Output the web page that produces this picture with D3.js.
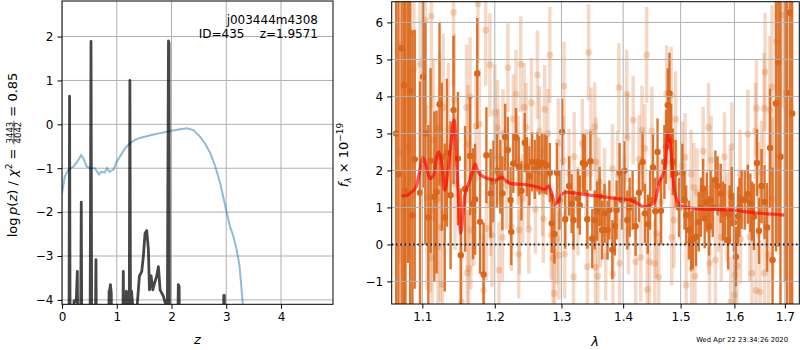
<!DOCTYPE html>
<html>
<head>
<meta charset="utf-8">
<script src="https://cdn.jsdelivr.net/npm/d3@7"></script>
<style>
  body { margin: 0; background: #fff; }
  text { font-family: "DejaVu Sans", sans-serif; }
</style>
</head>
<body>
<div id="chart-area"></div>
<script>
// ---- dados: painel esquerdo (p(z) e chi2) ----
const pzZ = [0, 0.125, 0.138, 0.15, 0.2, 0.22, 0.26, 0.28, 0.295, 0.335, 0.352, 0.365,
  0.51, 0.53, 0.545, 0.6, 0.62, 0.635, 0.84, 0.86, 0.875, 0.885, 0.9, 0.915,
  1.1, 1.12, 1.135, 1.16, 1.175, 1.19, 1.2, 1.225, 1.24, 1.255, 1.27, 1.29, 1.31,
  1.377, 1.414, 1.457, 1.487, 1.517, 1.548, 1.578, 1.597, 1.627, 1.658, 1.70, 1.731,
  1.761, 1.792, 1.853, 1.883, 1.925, 1.945, 1.955, 1.965,
  2.1, 2.125, 2.14, 2.15, 2.94, 2.955, 2.965, 2.975, 5]
const pzLog = [-6, -6, 0.64, -6, -6, -4.02, -4.04, -3.35, -6, -6, -1.77, -6,
  -6, 1.89, -6, -6, -3.08, -6, -6, -3.8, -3.75, -3.65, -3.85, -6,
  -6, -3.35, -6, -6, -3.8, -3.85, -6, -6, 1.0, -6, -3.8, -4.1, -6,
  -4.06, -3.46, -3.35, -2.99, -2.48, -2.42, -2.85, -3.77, -3.45, -3.77, -3.58, -3.45,
  -3.24, -3.77, -3.92, -4.06, -4.1, 1.9, 1.85, -6,
  -6, -3.65, -3.7, -6, -6, -3.9, -3.9, -6, -6]

const chiZ = [0, 0.05, 0.115, 0.21, 0.28, 0.35, 0.39, 0.45, 0.51, 0.6, 0.675, 0.72, 0.78,
  0.82, 0.87, 0.94, 1.0, 1.06, 1.15, 1.24, 1.33, 1.42, 1.55, 1.67, 1.79, 1.97, 2.16,
  2.28, 2.4, 2.52, 2.61, 2.71, 2.8, 2.89, 2.95, 3.01, 3.07, 3.13, 3.19, 3.24, 3.27, 3.30, 3.35]
const chiVal = [-1.57, -1.19, -1.04, -0.96, -0.85, -0.70, -0.77, -0.96, -1.0, -1.0, -1.14, -1.08, -1.1,
  -1.0, -1.08, -1.03, -0.85, -0.73, -0.55, -0.43, -0.36, -0.31, -0.27, -0.23, -0.2, -0.15, -0.11,
  -0.09, -0.13, -0.28, -0.43, -0.66, -0.96, -1.34, -1.68, -2.02, -2.33, -2.55, -2.86, -3.2, -3.61, -4.07, -4.8]

// ---- dados: painel direito (espectro) ----
const darkLam = [1.066, 1.069, 1.073, 1.076, 1.078, 1.081, 1.084, 1.087, 1.090, 1.097, 1.101, 1.104,
  1.108, 1.111, 1.116, 1.119, 1.123, 1.126, 1.130, 1.133, 1.138, 1.142, 1.148, 1.152, 1.158,
  1.165, 1.169, 1.172, 1.175, 1.179, 1.184, 1.188, 1.194, 1.198, 1.203, 1.208, 1.211, 1.215,
  1.219, 1.223, 1.224, 1.227, 1.231, 1.235, 1.239, 1.244, 1.247, 1.251, 1.255, 1.259, 1.263,
  1.266, 1.270, 1.274, 1.277, 1.282, 1.285, 1.289, 1.293, 1.297, 1.301, 1.306, 1.312, 1.316,
  1.319, 1.326, 1.329, 1.334, 1.337, 1.341, 1.346, 1.349, 1.353, 1.357, 1.361, 1.365, 1.369,
  1.374, 1.377, 1.382, 1.386, 1.389, 1.394, 1.398, 1.402, 1.407, 1.411, 1.416, 1.421, 1.427,
  1.433, 1.437, 1.442, 1.446, 1.451, 1.455, 1.459, 1.465, 1.471, 1.474, 1.477, 1.480, 1.483,
  1.486, 1.491, 1.497, 1.503, 1.507, 1.510, 1.515, 1.519, 1.522, 1.528, 1.533, 1.537, 1.541,
  1.544, 1.548, 1.552, 1.555, 1.559, 1.564, 1.568, 1.574, 1.578, 1.582, 1.588, 1.591, 1.595,
  1.599, 1.603, 1.607, 1.610, 1.614, 1.620, 1.626, 1.631, 1.634, 1.638, 1.644, 1.648, 1.653,
  1.659, 1.664, 1.670, 1.675, 1.682, 1.687, 1.691, 1.700, 1.704, 1.710, 1.715]
const darkFlux = [3.0, 1.9, 5.3, 4.3, 1.45, 7.5, 4.15, 0.79, 2.3, 1.4, 4.53, 3.0,
  0.73, 2.26, 1.29, 1.42, 3.79, 2.37, 0.73, 2.48, 1.33, 3.63, 2.32, -0.29, 1.5,
  2.39, 1.1, 1.22, 4.62, 0.61, -0.81, 2.41, 1.38, 1.7, 2.0, 1.83, 1.38, 2.9,
  2.55, 1.2, 0.34, 2.19, 2.89, 2.1, 1.45, 2.75, 2.1, 1.85, 2.23, 2.03, 2.23,
  2.14, 2.2, 2.17, 2.14, 1.94, 0.57, 0.28, 1.94, 1.2, 3.04, 0.68, 1.58, 1.1,
  0.66, 1.24, 1.06, 2.2, 2.17, 0.68, 2.25, 0.16, 0.66, 0.9, 1.3, 0.39, 0.84,
  0.39, 0.93, -0.14, 0.5, 0.93, 1.94, 1.2, 1.99, 0.66, 1.0, 1.2, 0.49, 1.4,
  2.23, 0.84, 0.55, 1.2, 2.08, 0.9, 2.5, 0.91, 2.23, 2.64, 3.76, 4.08, 2.8,
  2.23, 1.92, 1.0, 1.92, 1.2, 0.79, 0.39, 0.1, 0.14, 0.21, 0.61, 1.0, 1.51,
  0.7, 1.15, 0.5, 1.2, 1.0, 1.74, 1.58, 1.38, 0.9, 0.84, 0.12, 0.8, 1.29,
  0.6, -0.33, 0.76, 1.0, 1.22, 1.2, 1.36, 1.12, 0.9, 0.75, 2.2, 0.37, 1.58,
  1.15, 0.46, 2.61, -0.42, 3.81, 4.94, 2.37, 7.0, 4.1, 6.26, 3.54]
const darkErr = [9, 8, 7, 7, 6.5, 8, 6, 5, 3.5, 3, 3, 3,
  2.5, 2.5, 2.3, 2.2, 2.2, 2.0, 2.0, 2.0, 2.0, 2.0, 1.8, 1.8, 1.7,
  1.6, 1.5, 1.5, 1.5, 1.4, 1.4, 1.3, 1.2, 1.1, 1.0, 1.0, 1.0, 0.9,
  0.9, 0.9, 0.9, 0.8, 0.8, 0.8, 0.8, 0.8, 0.8, 0.8, 0.8, 0.8, 0.8,
  0.8, 0.8, 0.8, 0.8, 0.8, 0.8, 0.8, 0.8, 0.8, 0.9, 0.8, 0.8, 0.8,
  0.8, 0.8, 0.8, 0.8, 0.8, 0.8, 0.8, 0.8, 0.8, 0.8, 0.8, 0.8, 0.8,
  0.8, 0.8, 0.8, 0.8, 0.8, 0.8, 0.8, 0.8, 0.8, 0.8, 0.8, 0.8, 0.8,
  0.8, 0.8, 0.8, 0.8, 0.9, 0.9, 0.9, 0.9, 1.0, 1.0, 1.0, 1.1, 1.0,
  0.9, 0.9, 0.8, 0.8, 0.8, 0.8, 0.8, 0.8, 0.8, 0.8, 0.8, 0.8, 0.8,
  0.8, 0.8, 0.8, 0.8, 0.8, 0.8, 0.8, 0.8, 0.8, 0.8, 0.8, 0.8, 0.8,
  0.8, 0.8, 0.8, 0.8, 0.8, 0.8, 0.8, 0.8, 0.8, 0.9, 0.9, 0.9, 1.0,
  1.0, 1.2, 1.6, 2.5, 4, 5, 6, 8, 8, 9, 9]

const lightLam = [1.070, 1.076, 1.082, 1.084, 1.089, 1.097, 1.104, 1.106, 1.111, 1.112, 1.113, 1.115,
  1.119, 1.121, 1.123, 1.124, 1.127, 1.128, 1.135, 1.142, 1.143, 1.144, 1.153, 1.160, 1.161,
  1.162, 1.163, 1.165, 1.166, 1.170, 1.173, 1.176, 1.178, 1.184, 1.187, 1.188, 1.193, 1.194,
  1.196, 1.200, 1.204, 1.205, 1.206, 1.211, 1.212, 1.217, 1.219, 1.224, 1.227, 1.231, 1.234,
  1.235, 1.236, 1.238, 1.241, 1.243, 1.246, 1.249, 1.250, 1.254, 1.260, 1.263, 1.266, 1.271,
  1.272, 1.274, 1.279, 1.282, 1.284, 1.287, 1.289, 1.293, 1.295, 1.296, 1.303, 1.304, 1.305,
  1.312, 1.319, 1.320, 1.326, 1.333, 1.339, 1.341, 1.343, 1.347, 1.353, 1.354, 1.355, 1.358,
  1.360, 1.362, 1.369, 1.371, 1.382, 1.383, 1.391, 1.393, 1.394, 1.402, 1.406, 1.407, 1.409,
  1.417, 1.421, 1.427, 1.430, 1.432, 1.437, 1.440, 1.441, 1.445, 1.449, 1.454, 1.457, 1.461,
  1.465, 1.475, 1.481, 1.483, 1.484, 1.488, 1.491, 1.503, 1.508, 1.510, 1.519, 1.520, 1.524,
  1.526, 1.530, 1.541, 1.551, 1.552, 1.553, 1.556, 1.564, 1.570, 1.575, 1.581, 1.586, 1.592,
  1.593, 1.595, 1.600, 1.601, 1.605, 1.611, 1.612, 1.626, 1.630, 1.634, 1.641, 1.642, 1.643,
  1.647, 1.650, 1.653, 1.658, 1.659, 1.660, 1.667, 1.669, 1.674, 1.675, 1.683, 1.694]
const lightFlux = [2.5, 1.0, 2.64, 5.73, 4.73, 4.87, 6.06, 1.27, 0.91, 6.17, -0.36, 2.82,
  1.2, -0.06, 3.16, 0.46, -1.08, 3.7, 3.11, 6.27, 3.9, 1.65, -1.55, 3.7, -0.77,
  2.71, -0.65, 3.99, 0.39, 0.91, 3.2, 6.5, 3.25, -1.24, 5.79, 0.43, 4.85, 1.09,
  0.25, 3.56, 3.15, 2.37, -0.69, 0.19, 3.0, 1.6, 4.78, 0.49, 3.39, 4.06, 2.28,
  -0.26, 0.39, 4.87, 1.24, 3.7, 3.16, 1.66, 0.41, 3.83, 0.95, 4.58, 3.07, 1.42,
  0.7, 3.65, 3.0, 5.12, 0.25, -0.38, -1.32, 0.14, 2.75, -0.29, 2.26, 4.28, -0.26,
  1.92, -0.88, 2.37, 0.9, 2.73, 1.92, -0.6, 5.19, 3.04, 3.18, -0.62, 2.23, -0.86,
  1.69, 0.58, 1.4, -0.32, 2.05, -0.8, 1.87, 4.24, -0.51, 1.22, 4.06, 2.89, 0.39,
  3.36, -0.47, 2.3, -0.35, 3.09, 2.59, 5.12, -1.22, -0.47, 3.07, -0.51, 0.3, -0.89,
  1.15, 4.08, 2.77, 4.04, 0.19, 0.66, 3.38, 2.12, 2.35, -1.1, 1.9, -0.65, 1.54,
  -0.86, 1.4, 2.52, 3.16, 0.39, -0.51, 2.28, -0.42, 1.0, 0.2, 2.37, 0.75, 1.38,
  -1.55, 2.64, -1.37, -0.83, -0.58, 1.9, 0.14, 2.98, 0.21, -0.78, 3.07, -1.24, 3.68,
  1.47, -1.28, 1.94, 3.68, -0.77, 4.66, -0.29, 3.63, 4.26, 1.24, 5.48, 6.2]
const lightErr = [3, 3, 3, 4, 3.5, 3, 2.8, 2.5, 2.2, 2.5, 2.2, 2.2,
  2.0, 2.0, 2.0, 2.0, 2.0, 2.0, 1.8, 2.0, 1.8, 1.8, 1.8, 1.7, 1.7,
  1.6, 1.6, 1.6, 1.6, 1.5, 1.5, 1.6, 1.5, 1.5, 1.5, 1.4, 1.4, 1.4,
  1.4, 1.3, 1.3, 1.3, 1.3, 1.2, 1.2, 1.2, 1.2, 1.2, 1.2, 1.2, 1.2,
  1.2, 1.2, 1.3, 1.2, 1.2, 1.2, 1.2, 1.2, 1.2, 1.2, 1.2, 1.2, 1.2,
  1.2, 1.2, 1.2, 1.3, 1.2, 1.2, 1.2, 1.2, 1.2, 1.2, 1.2, 1.2, 1.2,
  1.2, 1.2, 1.2, 1.2, 1.2, 1.2, 1.2, 1.3, 1.2, 1.2, 1.2, 1.2, 1.2,
  1.2, 1.2, 1.2, 1.2, 1.2, 1.2, 1.2, 1.2, 1.2, 1.2, 1.2, 1.2, 1.2,
  1.2, 1.2, 1.2, 1.2, 1.2, 1.2, 1.3, 1.2, 1.2, 1.2, 1.2, 1.2, 1.2,
  1.2, 1.3, 1.3, 1.3, 1.3, 1.3, 1.3, 1.2, 1.2, 1.2, 1.2, 1.2, 1.2,
  1.2, 1.2, 1.2, 1.2, 1.2, 1.2, 1.2, 1.2, 1.2, 1.2, 1.2, 1.2, 1.2,
  1.2, 1.2, 1.2, 1.2, 1.2, 1.2, 1.2, 1.2, 1.2, 1.2, 1.3, 1.3, 1.3,
  1.3, 1.4, 1.4, 1.5, 1.5, 1.6, 1.8, 2.0, 2.2, 2.2, 2.2, 2.5]

const modelLam = [1.073, 1.080, 1.086, 1.092, 1.096, 1.101, 1.106, 1.110, 1.115, 1.119, 1.122, 1.126,
  1.130, 1.135, 1.139, 1.143, 1.145, 1.148, 1.152, 1.155, 1.158, 1.164, 1.169, 1.172, 1.176,
  1.184, 1.193, 1.202, 1.210, 1.215, 1.222, 1.242, 1.262, 1.275, 1.280, 1.285, 1.290, 1.295,
  1.301, 1.308, 1.324, 1.356, 1.389, 1.412, 1.423, 1.434, 1.442, 1.454, 1.462, 1.469, 1.474,
  1.477, 1.480, 1.484, 1.488, 1.496, 1.504, 1.529, 1.592, 1.643, 1.700]
const modelFlux = [1.31, 1.33, 1.42, 1.56, 1.92, 2.35, 2.05, 1.78, 1.87, 2.37, 2.5, 2.19,
  1.47, 2.1, 2.82, 3.36, 2.82, 1.56, 0.3, 0.84, 1.38, 1.69, 2.01, 2.17, 1.96,
  1.83, 1.76, 1.74, 1.81, 1.74, 1.65, 1.62, 1.56, 1.49, 1.58, 1.38, 1.09, 1.15,
  1.36, 1.41, 1.38, 1.31, 1.24, 1.2, 1.12, 1.02, 1.04, 1.15, 1.69, 1.92, 2.37,
  3.0, 2.91, 2.28, 1.56, 1.11, 1.02, 0.97, 0.93, 0.85, 0.79]

// ticks
const zTicks = [0, 1, 2, 3, 4]
const logpTicks = [-4, -3, -2, -1, 0, 1, 2]
const lamTicks = [1.1, 1.2, 1.3, 1.4, 1.5, 1.6, 1.7]
const fluxTicks = [-1, 0, 1, 2, 3, 4, 5, 6]

const orange = "#d9661a"
const gridColor = "#b0b0b0"

const svg = d3.select("#chart-area").append("svg")
  .attr("width", 800)
  .attr("height", 350)

// caixas dos dois paineis
const left = { x0: 62, x1: 333, y0: 1, y1: 304.3 }
const right = { x0: 391.7, x1: 799.3, y0: 1.7, y1: 304 }

const xz = d3.scaleLinear().domain([0, 4.95]).range([left.x0, left.x1])
const yz = d3.scaleLinear().domain([-4.1, 2.81]).range([left.y1, left.y0])
const xl = d3.scaleLog().domain([1.0603, 1.7297]).range([right.x0, right.x1])
const yf = d3.scaleLinear().domain([-1.61, 6.56]).range([right.y1, right.y0])

const defs = svg.append("defs")
defs.append("clipPath").attr("id", "clipL").append("rect")
  .attr("x", left.x0).attr("y", left.y0).attr("width", left.x1 - left.x0).attr("height", left.y1 - left.y0)
defs.append("clipPath").attr("id", "clipR").append("rect")
  .attr("x", right.x0).attr("y", right.y0).attr("width", right.x1 - right.x0).attr("height", right.y1 - right.y0)

function grid(g, xs, xt, ys, yt, box) {
  g.selectAll(".gx").data(xt).enter().append("line")
    .attr("x1", d => xs(d)).attr("x2", d => xs(d))
    .attr("y1", box.y0).attr("y2", box.y1)
    .attr("stroke", gridColor).attr("stroke-width", 1)
  g.selectAll(".gy").data(yt).enter().append("line")
    .attr("y1", d => ys(d)).attr("y2", d => ys(d))
    .attr("x1", box.x0).attr("x2", box.x1)
    .attr("stroke", gridColor).attr("stroke-width", 1)
}

function axes(xs, xt, ys, yt, box, fmtX) {
  const ax = svg.append("g")
    .attr("transform", `translate(0, ${box.y1})`)
    .call(d3.axisBottom(xs).tickValues(xt).tickFormat(fmtX).tickSize(4.5).tickPadding(4))
  const ay = svg.append("g")
    .attr("transform", `translate(${box.x0}, 0)`)
    .call(d3.axisLeft(ys).tickValues(yt).tickFormat(d3.format("d")).tickSize(4.5).tickPadding(4))
  ;[ax, ay].forEach(a => {
    a.select(".domain").remove()
    a.selectAll("text").attr("font-size", "12px").attr("fill", "#000")
      .attr("font-family", "DejaVu Sans")
    a.selectAll("line").attr("stroke", "#000")
  })
  svg.append("rect")
    .attr("x", box.x0).attr("y", box.y0)
    .attr("width", box.x1 - box.x0).attr("height", box.y1 - box.y0)
    .attr("fill", "none").attr("stroke", "#000").attr("stroke-width", 1)
}

// ---------- painel esquerdo ----------
const gL = svg.append("g").attr("clip-path", "url(#clipL)")
grid(gL, xz, zTicks, yz, logpTicks, left)

gL.append("path")
  .datum(chiZ.map((z, i) => [z, chiVal[i]]))
  .attr("d", d3.line().x(d => xz(d[0])).y(d => yz(d[1])))
  .attr("fill", "none").attr("stroke", "#1f77b4").attr("stroke-opacity", 0.5)
  .attr("stroke-width", 2)

gL.append("path")
  .datum(pzZ.map((z, i) => [z, pzLog[i]]))
  .attr("d", d3.line().x(d => xz(d[0])).y(d => yz(d[1])))
  .attr("fill", "none").attr("stroke", "#000").attr("stroke-opacity", 0.72)
  .attr("stroke-width", 2.8).attr("stroke-linejoin", "round")

axes(xz, zTicks, yz, logpTicks, left, d3.format("d"))

svg.append("text").attr("x", 318).attr("y", 24).attr("text-anchor", "end")
  .attr("font-size", "12px").text("j003444m4308")
svg.append("text").attr("x", 318).attr("y", 38).attr("text-anchor", "end")
  .attr("font-size", "12px").text("ID=435\u00a0\u00a0\u00a0\u00a0z=1.9571")

svg.append("text").attr("x", (left.x0 + left.x1) / 2).attr("y", 344)
  .attr("text-anchor", "middle").attr("font-size", "13px").attr("font-style", "italic").text("z")

// rótulo y com fração
const yl = svg.append("g").attr("transform", "translate(17.3, 155) rotate(-90)")
const ylIn = yl.append("g")
const t1 = ylIn.append("text").attr("font-size", "13px")
t1.append("tspan").text("log\u2009")
t1.append("tspan").attr("font-style", "italic").text("p")
t1.append("tspan").text("(")
t1.append("tspan").attr("font-style", "italic").text("z")
t1.append("tspan").text(")\u00a0/\u00a0")
t1.append("tspan").attr("font-style", "italic").text("χ")
t1.append("tspan").attr("font-size", "9px").attr("dy", -5).text("2")
t1.append("tspan").attr("dy", 5).text("\u00a0=\u00a0")
const w1 = t1.node().getComputedTextLength()
const num = ylIn.append("text").attr("font-size", "8.5px").attr("text-anchor", "middle").attr("y", -4.6).text("3443")
const fw = num.node().getComputedTextLength() + 2
num.attr("x", w1 + fw / 2)
ylIn.append("text").attr("font-size", "8.5px").attr("text-anchor", "middle")
  .attr("x", w1 + fw / 2).attr("y", 3.2).text("4042")
ylIn.append("line").attr("x1", w1).attr("x2", w1 + fw).attr("y1", -3.4).attr("y2", -3.4)
  .attr("stroke", "#000").attr("stroke-width", 0.7)
const t2 = ylIn.append("text").attr("font-size", "13px").attr("x", w1 + fw).text("\u00a0=\u00a00.85")
const wTot = w1 + fw + t2.node().getComputedTextLength()
ylIn.attr("transform", `translate(${-wTot / 2}, 0)`)

// ---------- painel direito ----------
const gR = svg.append("g").attr("clip-path", "url(#clipR)")

// pontos claros
gR.selectAll(".ebL").data(lightLam).enter().append("line")
  .attr("x1", d => xl(d)).attr("x2", d => xl(d))
  .attr("y1", (d, i) => yf(lightFlux[i] - lightErr[i]))
  .attr("y2", (d, i) => yf(lightFlux[i] + lightErr[i]))
  .attr("stroke", orange).attr("stroke-opacity", 0.25).attr("stroke-width", 3.5)
gR.selectAll(".ptL").data(lightLam).enter().append("circle")
  .attr("cx", d => xl(d)).attr("cy", (d, i) => yf(lightFlux[i])).attr("r", 3.4)
  .attr("fill", orange).attr("fill-opacity", 0.25)

// pontos escuros
gR.selectAll(".ebD").data(darkLam).enter().append("line")
  .attr("x1", d => xl(d)).attr("x2", d => xl(d))
  .attr("y1", (d, i) => yf(darkFlux[i] - darkErr[i]))
  .attr("y2", (d, i) => yf(darkFlux[i] + darkErr[i]))
  .attr("stroke", orange).attr("stroke-opacity", 0.9).attr("stroke-width", 2.4)
gR.selectAll(".ptD").data(darkLam).enter().append("circle")
  .attr("cx", d => xl(d)).attr("cy", (d, i) => yf(darkFlux[i])).attr("r", 3.2)
  .attr("fill", orange)

const gGrid = svg.append("g").attr("clip-path", "url(#clipR)")
grid(gGrid, xl, lamTicks, yf, fluxTicks, right)

gR.append("path")
  .datum(modelLam.map((l, i) => [l, modelFlux[i]]))
  .attr("d", d3.line().curve(d3.curveMonotoneX).x(d => xl(d[0])).y(d => yf(d[1])))
  .attr("fill", "none").attr("stroke", "red").attr("stroke-opacity", 0.65)
  .attr("stroke-width", 3.2).attr("stroke-linejoin", "round")

svg.append("line")
  .attr("x1", right.x0).attr("x2", right.x1).attr("y1", yf(0)).attr("y2", yf(0))
  .attr("stroke", "#000").attr("stroke-width", 2).attr("stroke-dasharray", "1.6,2.7")
  .attr("stroke-opacity", 0.85)

axes(xl, lamTicks, yf, fluxTicks, right, d3.format(".1f"))

svg.append("text").attr("x", 595).attr("y", 346)
  .attr("text-anchor", "middle").attr("font-size", "13px").attr("font-style", "italic").text("λ")

const fl = svg.append("text").attr("transform", "translate(348, 155) rotate(-90)")
  .attr("text-anchor", "middle").attr("font-size", "13px")
fl.append("tspan").attr("font-style", "italic").text("f")
fl.append("tspan").attr("font-style", "italic").attr("font-size", "9px").attr("dy", 3).text("λ")
fl.append("tspan").attr("dy", -3).text("\u00a0×\u00a010")
fl.append("tspan").attr("font-size", "9px").attr("dy", -5).text("−19")

svg.append("text").attr("x", 788).attr("y", 341.5).attr("text-anchor", "end")
  .attr("font-size", "6.8px").text("Wed Apr 22 23:34:26 2020")
</script>
</body>
</html>
